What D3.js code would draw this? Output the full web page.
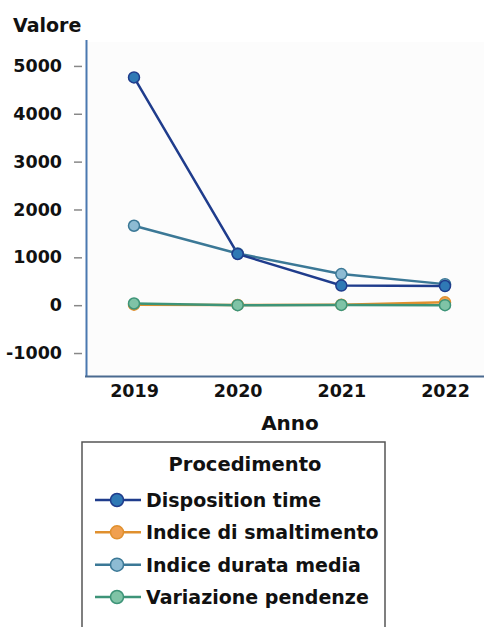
<!DOCTYPE html>
<html><head><meta charset="utf-8">
<script src="https://cdn.jsdelivr.net/npm/d3@7"></script>
<style>body{margin:0;background:#fff;overflow:hidden}svg{display:block}text{font-family:"DejaVu Sans",sans-serif;font-weight:bold;fill:#111}</style>
</head><body><svg id="c" width="484" height="627"></svg>
<script>
const years = ["2019","2020","2021","2022"];
const seriesNames = ["Disposition time","Indice di smaltimento","Indice durata media","Variazione pendenze"];
const dispositionTime = [4760, 1070, 410, 400];
const indiceSmaltimento = [10, 5, 10, 60];
const indiceDurataMedia = [1660, 1080, 650, 440];
const variazionePendenze = [35, 0, 5, 0];
const yTicks = [-1000, 0, 1000, 2000, 3000, 4000, 5000];
const lineColors = ["#1f3c8c", "#e0902e", "#3b7896", "#3d9478"];
const markerColors = ["#2f79b5", "#f0a050", "#8dbbd3", "#7fc3a6"];

const seriesValues = [dispositionTime, indiceSmaltimento, indiceDurataMedia, variazionePendenze];
const svg = d3.select("#c");
const x = d3.scalePoint().domain(years).range([134, 445]);
const y = d3.scaleLinear().domain([-1480, 5500]).range([376, 42]);

svg.append("rect").attr("x",86).attr("y",42).attr("width",398).attr("height",334).attr("fill","#fcfcfc");

const ya = svg.append("g").attr("transform","translate(82,0)")
  .call(d3.axisLeft(y).tickValues(yTicks).tickSize(8).tickPadding(12).tickFormat(d=> d<0 ? "-"+Math.abs(d) : d));
ya.select(".domain").remove();
ya.selectAll(".tick line").attr("stroke","#888").attr("stroke-width",1.5);
ya.selectAll("text").attr("font-size",17.5).attr("fill","#111");
svg.append("line").attr("x1",86.5).attr("x2",86.5).attr("y1",40).attr("y2",377).attr("stroke","#4a78b0").attr("stroke-width",2);

const xa = svg.append("g").attr("transform","translate(0,376)")
  .call(d3.axisBottom(x).tickSize(0).tickPadding(9));
xa.select(".domain").remove();
xa.selectAll("text").attr("font-size",17.5).attr("fill","#111");
svg.append("line").attr("x1",85).attr("x2",484).attr("y1",376.5).attr("y2",376.5).attr("stroke","#4a6a90").attr("stroke-width",2);

svg.append("text").attr("x",13).attr("y",32).attr("font-size",19).text("Valore");
svg.append("text").attr("x",290).attr("y",430).attr("text-anchor","middle").attr("font-size",20).text("Anno");

const line = d3.line().x((d,i)=>x(years[i])).y(d=>y(d));
const order = [1,3,2,0];
order.forEach(k=>{
  svg.append("path").datum(seriesValues[k]).attr("d",line).attr("fill","none")
    .attr("stroke",lineColors[k]).attr("stroke-width",2.5);
});
order.forEach(k=>{
  svg.selectAll(null).data(seriesValues[k]).enter().append("circle")
    .attr("cx",(d,i)=>x(years[i])).attr("cy",d=>y(d)).attr("r",5.5)
    .attr("fill",markerColors[k]).attr("stroke",lineColors[k]).attr("stroke-width",1.5);
});

const lg = svg.append("g");
lg.append("rect").attr("x",82).attr("y",442).attr("width",303).attr("height",200)
  .attr("fill","#fff").attr("stroke","#555").attr("stroke-width",1.5);
lg.append("text").attr("x",245).attr("y",471).attr("text-anchor","middle").attr("font-size",19.5).text("Procedimento");
const ly = d3.scalePoint().domain(seriesNames).range([500, 597]);
seriesNames.forEach((n,k)=>{
  const yy = ly(n);
  lg.append("line").attr("x1",95).attr("x2",141).attr("y1",yy).attr("y2",yy).attr("stroke",lineColors[k]).attr("stroke-width",2.5);
  lg.append("circle").attr("cx",117).attr("cy",yy).attr("r",6.5).attr("fill",markerColors[k]).attr("stroke",lineColors[k]).attr("stroke-width",1.5);
  lg.append("text").attr("x",146).attr("y",yy+7).attr("font-size",19).text(n);
});
</script></body></html>
